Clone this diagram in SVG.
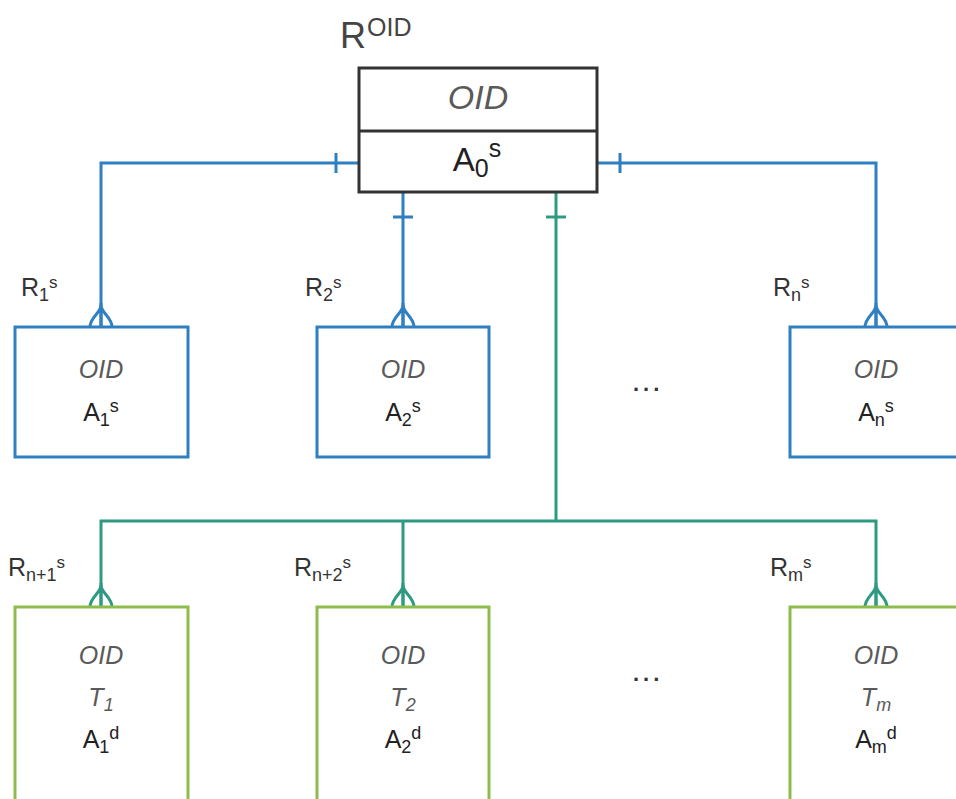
<svg xmlns="http://www.w3.org/2000/svg" xmlns:xlink="http://www.w3.org/1999/xlink" width="956" height="799" viewBox="0 0 956 799">
<style>
  text { font-family: "Liberation Sans", Arial, sans-serif; }
  .box { fill: #ffffff; stroke-width: 3; }
  .blue { stroke: #2f7fc1; }
  .green { stroke: #8dbb4c; }
  .dark { stroke: #333333; }
  .conn { fill: none; stroke-width: 3; }
  .cb { stroke: #2f7fc1; }
  .cg { stroke: #2e9a82; }
  .oid { font-style: italic; fill: #5a5a5a; font-size: 25px; text-anchor: middle; }
  .attr { fill: #222222; font-size: 25px; text-anchor: middle; }
  .lbl { fill: #333333; font-size: 25px; }
  .dots { fill: #333333; font-size: 22px; font-weight: bold; letter-spacing: 4px; }
</style>
<defs>
  <g id="crow">
    <path d="M0,-24 V0 M-11,0 C-11,-10 0,-14 0,-22 C0,-14 11,-10 11,0" fill="none" stroke-width="3"/>
  </g>
</defs>

<g id="connectors">
  <path class="conn cb" d="M359,163 H101 V327"/>
  <path class="conn cb" d="M597,163 H876 V327"/>
  <path class="conn cb" d="M403,192 V327"/>
  <path class="conn cg" d="M556,192 V521"/>
  <path class="conn cg" d="M101,607 V521 H876 V607"/>
  <path class="conn cg" d="M403,521 V607"/>
  <path class="conn cb" d="M336,153 V173 M620,153 V173 M393,217 H413"/>
  <path class="conn cg" d="M546,217 H566"/>
  <use xlink:href="#crow" x="101" y="327" stroke="#2f7fc1"/>
  <use xlink:href="#crow" x="403" y="327" stroke="#2f7fc1"/>
  <use xlink:href="#crow" x="876" y="327" stroke="#2f7fc1"/>
  <use xlink:href="#crow" x="101" y="607" stroke="#2e9a82"/>
  <use xlink:href="#crow" x="403" y="607" stroke="#2e9a82"/>
  <use xlink:href="#crow" x="876" y="607" stroke="#2e9a82"/>
</g>

<g id="root">
  <text x="340" y="48" fill="#444444" font-size="36">R<tspan font-size="25" dx="1" dy="-12">OID</tspan></text>
  <rect class="box dark" x="359" y="68" width="238" height="124"/>
  <line x1="359" y1="131" x2="597" y2="131" stroke="#333333" stroke-width="3"/>
  <text x="478" y="109" class="oid" style="font-size:34px">OID</text>
  <text x="477" y="171" class="attr" style="font-size:33px">A<tspan font-size="25" dy="6">0</tspan><tspan font-size="25" dy="-20">s</tspan></text>
</g>

<g id="A1">
  <rect class="box blue" x="15" y="327" width="173" height="130"/>
  <text x="101" y="378" class="oid">OID</text>
  <text x="101" y="421" class="attr">A<tspan font-size="18" dy="5">1</tspan><tspan font-size="18" dy="-14">s</tspan></text>
  <text x="21" y="296" class="lbl">R<tspan font-size="18" dy="5">1</tspan><tspan font-size="17" dy="-13">s</tspan></text>
</g>

<g id="A2">
  <rect class="box blue" x="317" y="327" width="172" height="130"/>
  <text x="403" y="378" class="oid">OID</text>
  <text x="403" y="421" class="attr">A<tspan font-size="18" dy="5">2</tspan><tspan font-size="18" dy="-14">s</tspan></text>
  <text x="305" y="296" class="lbl">R<tspan font-size="18" dy="5">2</tspan><tspan font-size="17" dy="-13">s</tspan></text>
</g>

<g id="dots1">
  <text x="633" y="391" class="dots">...</text>
</g>

<g id="An">
  <rect class="box blue" x="790" y="327" width="180" height="130"/>
  <text x="876" y="378" class="oid">OID</text>
  <text x="876" y="421" class="attr">A<tspan font-size="18" dy="5">n</tspan><tspan font-size="18" dy="-14">s</tspan></text>
  <text x="773" y="296" class="lbl">R<tspan font-size="18" dy="5">n</tspan><tspan font-size="17" dy="-13">s</tspan></text>
</g>

<g id="T1">
  <rect class="box green" x="15" y="607" width="173" height="220"/>
  <text x="101" y="664" class="oid">OID</text>
  <text x="101" y="706" class="oid">T<tspan font-size="18" dy="5">1</tspan></text>
  <text x="101" y="748" class="attr">A<tspan font-size="18" dy="5">1</tspan><tspan font-size="18" dy="-14">d</tspan></text>
  <text x="8" y="576" class="lbl">R<tspan font-size="18" dy="5">n+1</tspan><tspan font-size="17" dy="-13">s</tspan></text>
</g>

<g id="T2">
  <rect class="box green" x="317" y="607" width="172" height="220"/>
  <text x="403" y="664" class="oid">OID</text>
  <text x="403" y="706" class="oid">T<tspan font-size="18" dy="5">2</tspan></text>
  <text x="403" y="748" class="attr">A<tspan font-size="18" dy="5">2</tspan><tspan font-size="18" dy="-14">d</tspan></text>
  <text x="294" y="576" class="lbl">R<tspan font-size="18" dy="5">n+2</tspan><tspan font-size="17" dy="-13">s</tspan></text>
</g>

<g id="dots2">
  <text x="633" y="681" class="dots">...</text>
</g>

<g id="Tm">
  <rect class="box green" x="790" y="607" width="180" height="220"/>
  <text x="876" y="664" class="oid">OID</text>
  <text x="876" y="706" class="oid">T<tspan font-size="18" dy="5">m</tspan></text>
  <text x="876" y="748" class="attr">A<tspan font-size="18" dy="5">m</tspan><tspan font-size="18" dy="-14">d</tspan></text>
  <text x="770" y="576" class="lbl">R<tspan font-size="18" dy="5">m</tspan><tspan font-size="17" dy="-13">s</tspan></text>
</g>
</svg>
